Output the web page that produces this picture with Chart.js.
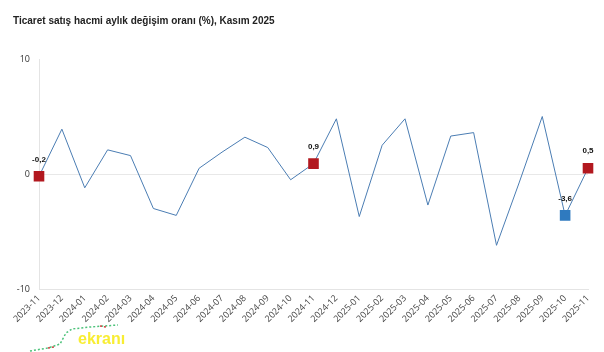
<!DOCTYPE html>
<html>
<head>
<meta charset="utf-8">
<script src="https://cdn.jsdelivr.net/npm/chart.js@4.4.0/dist/chart.umd.min.js"></script>
<style>
  html, body { margin: 0; padding: 0; background: #fff; }
  #wrap { width: 604px; height: 352px; position: relative; }
</style>
</head>
<body>
<div id="wrap"><canvas id="mycanvas" width="604" height="352"></canvas></div>
<script>
var title = 'Ticaret satış hacmi aylık değişim oranı (%), Kasım 2025';
var months = ['2023-11','2023-12','2024-01','2024-02','2024-03','2024-04','2024-05','2024-06',
  '2024-07','2024-08','2024-09','2024-10','2024-11','2024-12','2025-01','2025-02','2025-03',
  '2025-04','2025-05','2025-06','2025-07','2025-08','2025-09','2025-10','2025-11'];
var change = [-0.2, 3.9, -1.2, 2.1, 1.6, -3.0, -3.6, 0.5, 1.9, 3.2, 2.3, -0.5, 0.9, 4.8,
  -3.7, 2.5, 4.8, -2.7, 3.3, 3.6, -6.2, -0.7, 5.0, -3.6, 0.5];
var yTicks = [-10, 0, 10];
// highlighted points: index -> colour
var marked = { 0: '#b2181f', 12: '#b2181f', 23: '#2f7abf', 24: '#b2181f' };

var pointColors = change.map(function(v, i) { return marked[i] || 'rgba(0,0,0,0)'; });
var pointSizes = change.map(function(v, i) { return marked[i] ? 7.5 : 0; });

var extras = {
  id: 'extras',
  afterDatasetsDraw: function(chart) {
    var ctx = chart.ctx;
    var meta = chart.getDatasetMeta(0);
    ctx.save();
    ctx.fillStyle = '#111';
    ctx.font = 'bold 8px "Liberation Sans", sans-serif';
    ctx.textAlign = 'center';
    ctx.textBaseline = 'middle';
    Object.keys(marked).forEach(function(k) {
      var p = meta.data[k];
      ctx.fillText(change[k].toFixed(1).replace('.', ','), p.x, p.y - 17);
    });
    ctx.restore();
  },
  afterDraw: function(chart) {
    var ctx = chart.ctx;
    ctx.save();
    ctx.fillStyle = '#222';
    ctx.font = 'bold 10px "Liberation Sans", sans-serif';
    ctx.textBaseline = 'middle';
    ctx.fillText(title, 13, 21);
    // watermark
    ctx.lineWidth = 1.5;
    ctx.setLineDash([2, 2]);
    ctx.strokeStyle = '#4cc27a';
    ctx.beginPath();
    ctx.moveTo(30, 351); ctx.lineTo(48, 348); ctx.lineTo(60, 344);
    ctx.lineTo(66, 333); ctx.lineTo(72, 329); ctx.lineTo(90, 327); ctx.lineTo(118, 325);
    ctx.stroke();
    ctx.strokeStyle = '#d04040';
    ctx.beginPath();
    ctx.moveTo(48, 348); ctx.lineTo(54, 347);
    ctx.moveTo(100, 326); ctx.lineTo(106, 327);
    ctx.stroke();
    ctx.setLineDash([]);
    ctx.fillStyle = 'rgba(248, 236, 40, 0.95)';
    ctx.font = 'bold 16px "Liberation Sans", sans-serif';
    ctx.textBaseline = 'alphabetic';
    ctx.fillText('ekranı', 78, 344);
    ctx.restore();
  }
};

var ctx = document.getElementById('mycanvas');
var lineChart = new Chart(ctx, {
  type: 'line',
  data: {
    labels: months,
    datasets: [{
      data: change,
      borderColor: '#4b7db3',
      borderWidth: 1,
      tension: 0,
      pointStyle: 'rect',
      pointRadius: pointSizes,
      pointHoverRadius: pointSizes,
      pointBackgroundColor: pointColors,
      pointBorderWidth: 0
    }]
  },
  options: {
    responsive: false,
    animation: false,
    layout: { padding: { top: 59, right: 16, left: 0, bottom: 0 } },
    plugins: { legend: { display: false }, tooltip: { enabled: false } },
    scales: {
      x: {
        offset: false,
        grid: { display: false, drawTicks: false },
        border: { color: '#e4e4e4' },
        ticks: {
          color: '#444',
          font: { size: 9, family: '"Open Sans", sans-serif' },
          maxRotation: 45, minRotation: 45, autoSkip: false, padding: 4
        },
        afterFit: function(scale) { scale.height = 63; }
      },
      y: {
        min: -10, max: 10,
        afterBuildTicks: function(scale) {
          scale.ticks = yTicks.map(function(v) { return { value: v }; });
        },
        grid: {
          drawTicks: false,
          color: function(c) { return c.tick && c.tick.value === 0 ? '#e8e8e8' : 'rgba(0,0,0,0)'; }
        },
        border: { color: '#e4e4e4' },
        ticks: {
          color: '#333',
          font: { size: 9, family: '"Open Sans", sans-serif' },
          padding: 9
        },
        afterFit: function(scale) { scale.width = 39; }
      }
    }
  },
  plugins: [extras]
});
</script>
</body>
</html>
